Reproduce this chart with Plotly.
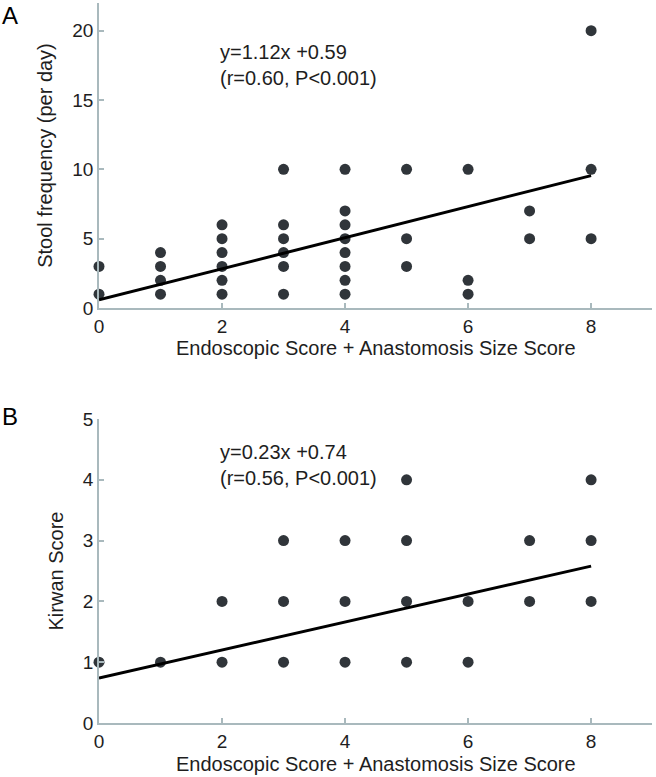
import plotly.graph_objects as go
from plotly.subplots import make_subplots

# Panel A data: stool frequency
a_x = [0, 0, 1, 1, 1, 1, 2, 2, 2, 2, 2, 2, 3, 3, 3, 3, 3, 3,
       4, 4, 4, 4, 4, 4, 4, 4, 5, 5, 5, 6, 6, 6, 7, 7, 8, 8, 8]
a_y = [1, 3, 1, 2, 3, 4, 1, 2, 3, 4, 5, 6, 1, 3, 4, 5, 6, 10,
       1, 2, 3, 4, 5, 6, 7, 10, 3, 5, 10, 1, 2, 10, 5, 7, 5, 10, 20]
a_slope, a_intercept = 1.12, 0.59

# Panel B data: Kirwan score
b_x = [0, 1, 2, 2, 3, 3, 3, 4, 4, 4, 5, 5, 5, 5, 6, 6, 7, 7, 8, 8, 8]
b_y = [1, 1, 1, 2, 1, 2, 3, 1, 2, 3, 1, 2, 3, 4, 1, 2, 2, 3, 2, 3, 4]
b_slope, b_intercept = 0.23, 0.74

fit_x = [0, 8]
x_ticks = [0, 2, 4, 6, 8]
a_ticks = [0, 5, 10, 15, 20]
b_ticks = [0, 1, 2, 3, 4, 5]

x_title = "Endoscopic Score + Anastomosis Size Score"
a_ytitle = "Stool frequency (per day)"
b_ytitle = "Kirwan Score"
a_eq = "y=1.12x +0.59<br>(r=0.60, P<0.001)"
b_eq = "y=0.23x +0.74<br>(r=0.56, P<0.001)"

FONT = "Liberation Sans"
TXT = "#1e1e1e"
MARK = "#30353a"
AXC = "#a9b9bd"

fig = make_subplots(rows=2, cols=1, vertical_spacing=0.0)

fig.add_trace(go.Scatter(x=a_x, y=a_y, mode="markers", cliponaxis=False,
                         marker=dict(size=11, color=MARK), showlegend=False), row=1, col=1)
fig.add_trace(go.Scatter(x=fit_x, y=[a_intercept + a_slope * v for v in fit_x], mode="lines",
                         line=dict(color="black", width=3), showlegend=False), row=1, col=1)
fig.add_trace(go.Scatter(x=b_x, y=b_y, mode="markers", cliponaxis=False,
                         marker=dict(size=11, color=MARK), showlegend=False), row=2, col=1)
fig.add_trace(go.Scatter(x=fit_x, y=[b_intercept + b_slope * v for v in fit_x], mode="lines",
                         line=dict(color="black", width=3), showlegend=False), row=2, col=1)

H = 720.0
a_dom = [1 - 305 / H, 1.0]
b_dom = [0.0, 1 - 416 / H]

common_x = dict(range=[0, 8.99], tickvals=x_ticks, showgrid=False, zeroline=False,
                showline=True, linecolor=AXC, linewidth=1.5, ticks="inside", ticklen=5,
                tickcolor=AXC, tickwidth=1.5, tickfont=dict(size=19, color=TXT),
                automargin=False)
common_y = dict(showgrid=False, zeroline=False, showline=True, linecolor=AXC, linewidth=1.5,
                ticks="inside", ticklen=5, tickcolor=AXC, tickwidth=1.5, automargin=False,
                tickfont=dict(size=19, color=TXT))

fig.update_layout(
    template="none",
    xaxis=dict(**common_x, domain=[0, 1], anchor="y"),
    xaxis2=dict(**common_x, domain=[0, 1], anchor="y2"),
    yaxis=dict(**common_y, range=[0, 22], tickvals=a_ticks, domain=a_dom, anchor="x",
               title=dict(text=a_ytitle, font=dict(size=20, color=TXT), standoff=14)),
    yaxis2=dict(**common_y, range=[0, 5], tickvals=b_ticks, domain=b_dom, anchor="x2",
                title=dict(text=b_ytitle, font=dict(size=20, color=TXT), standoff=14)),
    width=656, height=777,
    margin=dict(l=99, r=4, t=3, b=54),
    plot_bgcolor="white", paper_bgcolor="white",
    font=dict(family=FONT, color=TXT),
    showlegend=False,
)

# x-axis titles placed as text under each panel
fig.add_annotation(text=x_title, xref="paper", yref="paper", x=0.5, y=1 - (348 - 3) / H,
                   xanchor="center", yanchor="middle", showarrow=False, font=dict(size=20, color=TXT))
fig.add_annotation(text=x_title, xref="paper", yref="paper", x=0.5, y=1 - (764 - 3) / H,
                   xanchor="center", yanchor="middle", showarrow=False, font=dict(size=20, color=TXT))

fig.add_annotation(text=a_eq, xref="x", yref="y", x=1.94, y=17.5, xanchor="left", yanchor="middle",
                   showarrow=False, align="left", font=dict(size=20, color=TXT))
fig.add_annotation(text=b_eq, xref="x2", yref="y2", x=1.94, y=4.25, xanchor="left", yanchor="middle",
                   showarrow=False, align="left", font=dict(size=20, color=TXT))
fig.add_annotation(text="A", xref="paper", yref="paper", x=-99 / 553, y=1 - 12 / H,
                   xanchor="left", yanchor="middle", showarrow=False, font=dict(size=24, color="black"))
fig.add_annotation(text="B", xref="paper", yref="paper", x=-99 / 553, y=1 - 413 / H,
                   xanchor="left", yanchor="middle", showarrow=False, font=dict(size=24, color="black"))

fig.write_html("out.html", config={"displayModeBar": False},
               post_script="document.body.style.margin='0';document.body.style.overflow='hidden';")
